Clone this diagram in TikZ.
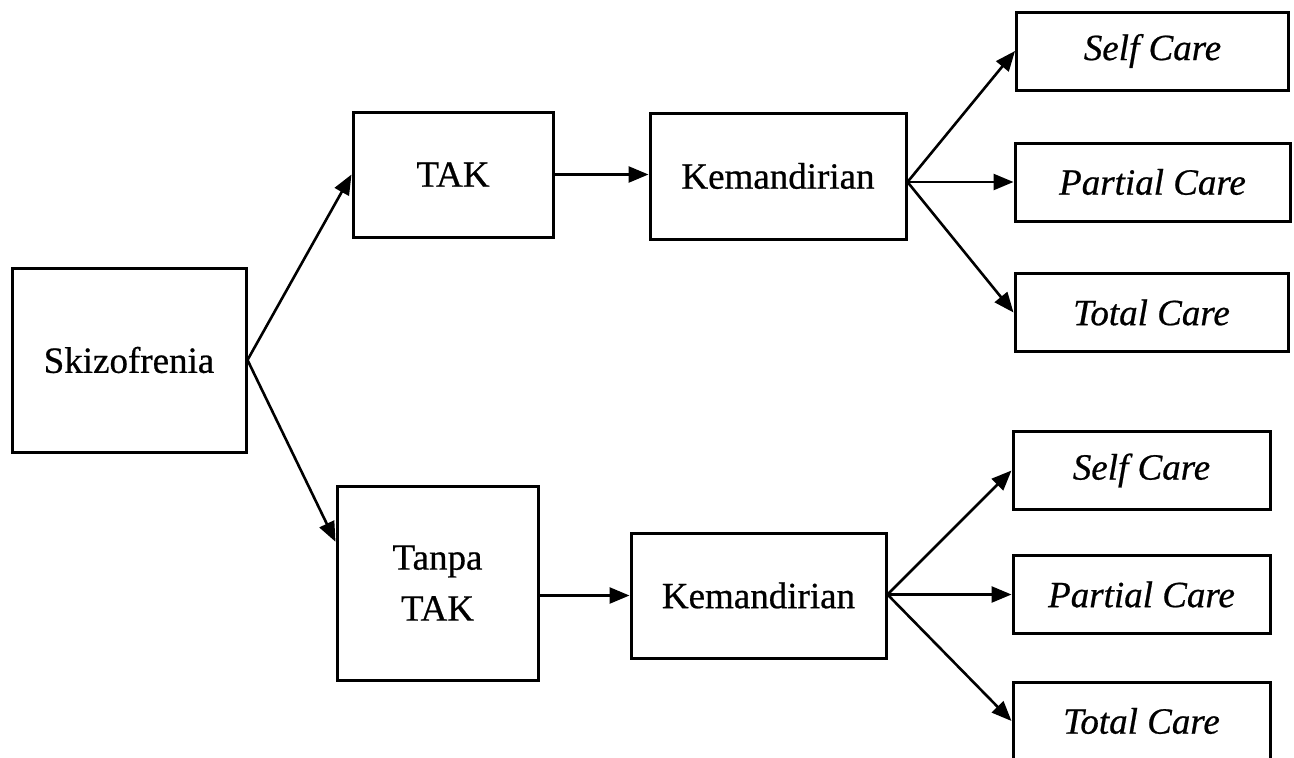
\documentclass[tikz,border=0pt]{standalone}
\usepackage{fontspec}
\setmainfont{Liberation Serif}[FakeBold=0.6]
\usetikzlibrary{calc, positioning}
\usetikzlibrary{arrows.meta}

\begin{document}
\begin{tikzpicture}[x=1pt,y=-1pt,
  box/.style={draw,line width=3pt,inner sep=0pt,align=center,
    font=\fontsize{37}{51}\selectfont},
  carebox/.style={box,minimum height=78pt,font=\fontsize{37}{51}\selectfont\itshape},
  link/.style={line width=2.6pt,-{Triangle[length=20pt,width=16pt]}}]
\useasboundingbox (0,0) rectangle (1294,758);

\coordinate (S) at (129,360);
\coordinate (T) at (453,174.5);
\coordinate (NT) at (437.5,583);
\coordinate (K1) at (778,176);
\coordinate (K2) at (758.5,595.5);

\node[box,minimum width=234pt,minimum height=184pt] (skizo) at (S) {Skizofrenia};
\node[box,minimum width=200pt,minimum height=125pt] (tak) at (T) {TAK};
\node[box,minimum width=201pt,minimum height=194pt] (tanpa) at (NT) {Tanpa\\TAK};
\node[box,minimum width=256pt,minimum height=126pt] (kem1) at (K1) {Kemandirian};
\node[box,minimum width=255pt,minimum height=125pt] (kem2) at (K2) {Kemandirian};

\node[carebox,minimum width=272pt] (self1) at (1152.5,51) {Self Care};
\node[carebox,minimum width=275pt] (part1) at (1152.5,182) {Partial Care};
\node[carebox,minimum width=273pt] (tot1) at (1151.5,312.5) {Total Care};
\node[carebox,minimum width=257pt] (self2) at (1141.5,470.5) {Self Care};
\node[carebox,minimum width=257pt] (part2) at (1141.5,594.5) {Partial Care};
\node[carebox,minimum width=257pt] (tot2) at (1141.5,721) {Total Care};

\coordinate (K1out) at (kem1.east |- part1.west);
\coordinate (K2out) at (kem2.east |- part2.west);

\draw[link] (skizo.east) -- (tak.west);
\draw[link] (skizo.east) -- (tanpa.158);
\draw[link] (tak.east) -- (tak.east -| kem1.west);
\draw[link] (kem2.west -| tanpa.east) -- (kem2.west);
\foreach \C in {self1,part1,tot1}{
  \draw[link] (K1out) -- (\C.west);
}
\foreach \C in {self2,part2,tot2}{
  \draw[link] (K2out) -- (\C.west);
}
\end{tikzpicture}
\end{document}
